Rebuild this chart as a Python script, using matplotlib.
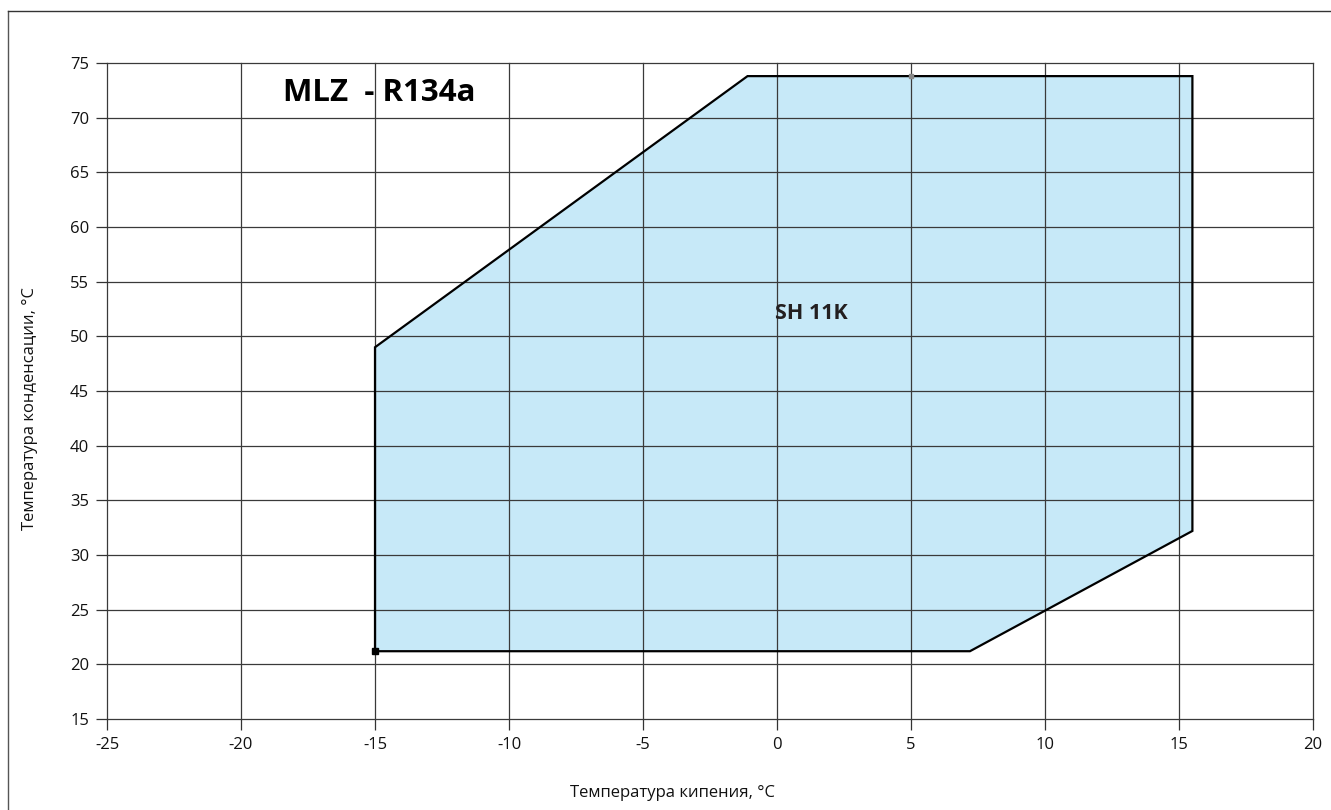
import matplotlib
matplotlib.use("Agg")
import matplotlib.pyplot as plt
from matplotlib.patches import Polygon
from matplotlib.lines import Line2D

plt.rcParams['font.family'] = ['Open Sans', 'DejaVu Sans']

# Envelope vertices (evaporating temp, condensing temp)
env_x = [-15, -15, -1.1, 15.5, 15.5, 7.2]
env_y = [21.2, 49.0, 73.8, 73.8, 32.2, 21.2]

x_ticks = [-25, -20, -15, -10, -5, 0, 5, 10, 15, 20]
y_ticks = [15, 20, 25, 30, 35, 40, 45, 50, 55, 60, 65, 70, 75]

title = "MLZ  - R134a"
title_pos = (-18.45, 72.3)
region_label = "SH 11K"
region_pos = (1.27, 52.1)
x_label = "Температура кипения, °C"
y_label = "Температура конденсации, °C"

fig = plt.figure(figsize=(13.31, 8.10), dpi=100)
ax = fig.add_axes([107/1331, 1 - 719/810, (1313-107)/1331, (719-63)/810])

ax.set_xlim(x_ticks[0], x_ticks[-1])
ax.set_ylim(y_ticks[0], y_ticks[-1])
ax.set_xticks(x_ticks)
ax.set_yticks(y_ticks)
ax.set_xticklabels([str(v) for v in x_ticks])
ax.set_yticklabels([str(v) for v in y_ticks])
for s in ax.spines.values():
    s.set_visible(False)
ax.tick_params(direction='out', length=8, width=0.9, color='#333333',
               labelsize=12, pad=5, labelcolor='#111111')

poly = Polygon(list(zip(env_x, env_y)), closed=True, facecolor='#c7e9f8',
               edgecolor='none', zorder=1)
ax.add_patch(poly)
ax.set_axisbelow(False)
ax.grid(True, color='#3a3a3a', linewidth=0.9)
for gl in ax.get_xgridlines() + ax.get_ygridlines():
    gl.set_clip_on(False)

ax.plot(env_x + [env_x[0]], env_y + [env_y[0]], color='black', lw=1.6,
        zorder=4, solid_joinstyle='miter')
ax.plot([env_x[0]], [env_y[0]], marker='s', color='black', markersize=4, zorder=5)
ax.plot([5], [env_y[2]], marker='s', color='#888888', markersize=3.5, zorder=5)

ax.text(title_pos[0], title_pos[1], title, fontsize=22.5, fontweight='bold', ha='left',
        va='center', color='black', zorder=6)
ax.text(region_pos[0], region_pos[1], region_label, fontsize=15.5,
        fontweight='bold', ha='center', va='center', color='#231f20', zorder=6)

ax.set_xlabel(x_label, fontsize=12, color='#111111')
ax.xaxis.set_label_coords((672-107)/1206, -(785-719)/656)
ax.set_ylabel(y_label, fontsize=12, color='#111111')
ax.yaxis.set_label_coords(-(107-38)/1206, (719-408)/656)

# outer frame (top and left)
fig.add_artist(Line2D([8/1331, 8/1331], [0, 1 - 11/810], color='#555555', lw=1.0,
                      transform=fig.transFigure))
fig.add_artist(Line2D([8/1331, 1], [1 - 11/810, 1 - 11/810], color='#333333', lw=1.0,
                      transform=fig.transFigure))

fig.savefig("out.png", dpi=100)
